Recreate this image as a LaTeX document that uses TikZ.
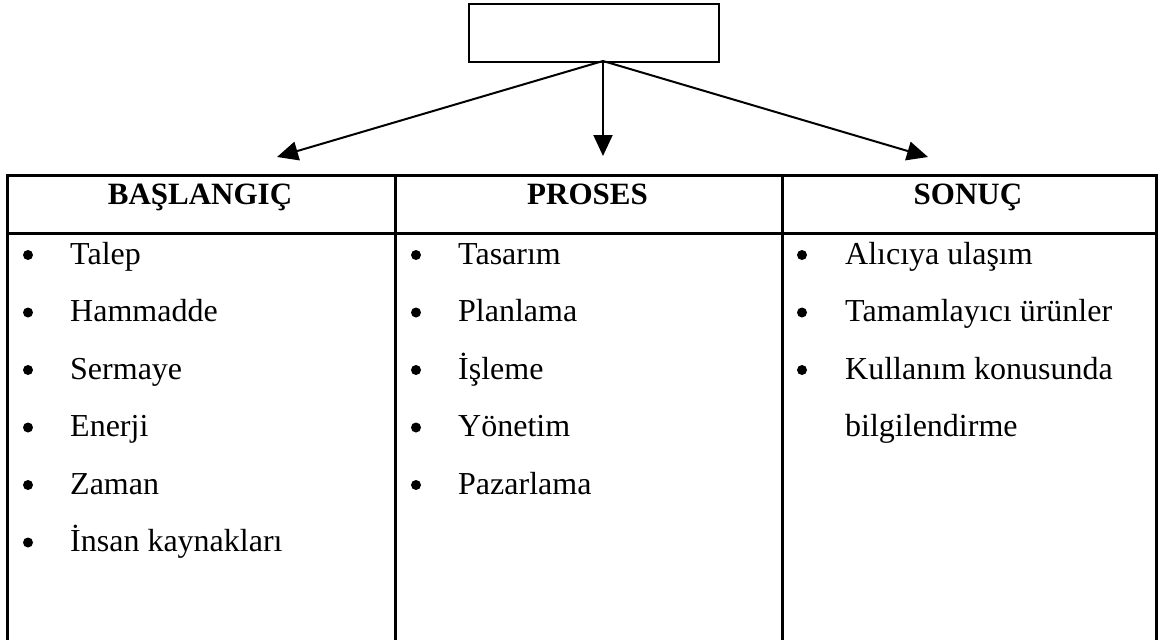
\documentclass[tikz,border=0pt]{standalone}
\usepackage{fontspec}
\setmainfont{Liberation Serif}
\usetikzlibrary{arrows.meta}
\begin{document}
\begin{tikzpicture}[x=1pt,y=-1pt,
  box/.style={draw,line width=2pt,inner sep=0pt,anchor=north west},
  cell/.style={draw,line width=2.5pt,inner sep=0pt,anchor=north west},
  arr/.style={line width=2pt,-{Triangle[length=21pt,width=19pt]}},
  hdr/.style={font=\fontsize{31}{37}\selectfont\bfseries,anchor=base,inner sep=0pt},
  item/.style={font=\fontsize{32}{38}\selectfont,anchor=base west,inner sep=0pt},
  dot/.style={circle,fill,inner sep=0pt,minimum size=10pt}]
\useasboundingbox (0,0) rectangle (1163,640);
% top box
\node[box,minimum width=250pt,minimum height=58pt] (top) at (468,3) {};
\coordinate (apex) at (603,61);
\coordinate (eL) at (277,157);
\coordinate (eM) at (603,156);
\coordinate (eR) at (928,157);
\draw[arr] (apex) -- (eL);
\draw[arr] (apex) -- (eM);
\draw[arr] (apex) -- (eR);
% table cells
\node[cell,minimum width=388pt,minimum height=58pt] (h1) at (6,174) {};
\node[cell,minimum width=387pt,minimum height=58pt] (h2) at (394,174) {};
\node[cell,minimum width=374pt,minimum height=58pt] (h3) at (781,174) {};
\node[cell,minimum width=388pt,minimum height=412pt] (b1) at (6,232) {};
\node[cell,minimum width=387pt,minimum height=412pt] (b2) at (394,232) {};
\node[cell,minimum width=374pt,minimum height=412pt] (b3) at (781,232) {};
% headers
\node[hdr] (t1) at (200,204) {BAŞLANGIÇ};
\node[hdr] (t2) at (587.5,204) {PROSES};
\node[hdr] (t3) at (968,204) {SONUÇ};
% column 1
\foreach \t [count=\i] in {Talep,Hammadde,Sermaye,Enerji,Zaman,İnsan kaynakları} {
  \node[dot] (ad\i) at (28,{264+57.5*(\i-1)-9}) {};
  \node[item] (a\i) at (70,{264+57.5*(\i-1)}) {\t};
}
% column 2
\foreach \t [count=\i] in {Tasarım,Planlama,İşleme,Yönetim,Pazarlama} {
  \node[dot] (bd\i) at (416,{264+57.5*(\i-1)-9}) {};
  \node[item] (b\i) at (458,{264+57.5*(\i-1)}) {\t};
}
% column 3
\foreach \t [count=\i] in {Alıcıya ulaşım,Tamamlayıcı ürünler,Kullanım konusunda} {
  \node[dot] (cd\i) at (802,{264+57.5*(\i-1)-9}) {};
  \node[item] (c\i) at (845,{264+57.5*(\i-1)}) {\t};
}
\node[item] (c4) at (845,{264+57.5*3}) {bilgilendirme};
\end{tikzpicture}
\end{document}
